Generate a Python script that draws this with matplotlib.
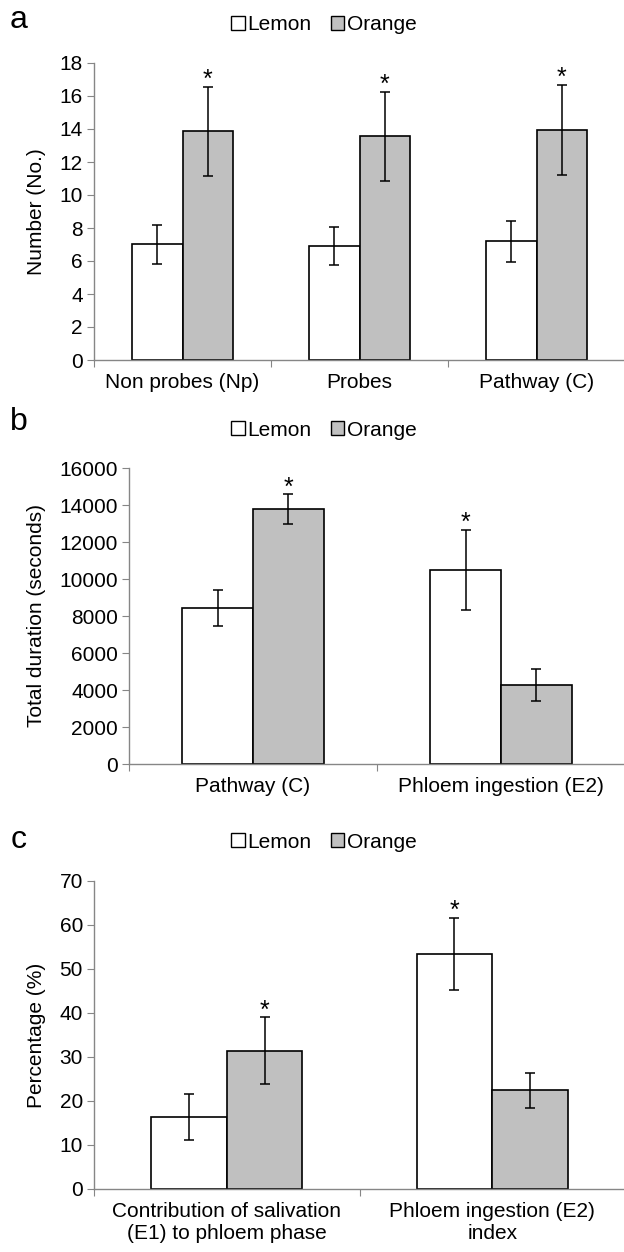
import matplotlib
matplotlib.use("Agg")
import matplotlib.pyplot as plt
import numpy as np
from matplotlib.patches import Patch

plt.rcParams["font.family"] = ["Liberation Sans", "DejaVu Sans"]
plt.rcParams["font.size"] = 15

# ---------------------------------------------------------------- data
series = ["Lemon", "Orange"]

a_categories = ["Non probes (Np)", "Probes", "Pathway (C)"]
a_lemon = [7.0, 6.9, 7.2]
a_lemon_err = [1.2, 1.15, 1.25]
a_orange = [13.85, 13.55, 13.95]
a_orange_err = [2.72, 2.68, 2.72]
a_star = ["Orange", "Orange", "Orange"]

b_categories = ["Pathway (C)", "Phloem ingestion (E2)"]
b_lemon = [8450, 10480]
b_lemon_err = [970, 2150]
b_orange = [13780, 4270]
b_orange_err = [790, 880]
b_star = ["Orange", "Lemon"]

c_categories = ["Contribution of salivation\n(E1) to phloem phase",
                "Phloem ingestion (E2)\nindex"]
c_lemon = [16.3, 53.4]
c_lemon_err = [5.2, 8.2]
c_orange = [31.4, 22.4]
c_orange_err = [7.6, 3.9]
c_star = ["Orange", "Lemon"]

W, H = 624, 1252
FILL = {"Lemon": "white", "Orange": "#c0c0c0"}
AXIS_GREY = "#868686"
BAR_W = 0.285


def px_box(left, top, bottom, right=625):
    return [left / W, 1 - bottom / H, (right - left) / W, (bottom - top) / H]


def panel(fig, box, letter, letter_y, legend_y, cats, lemon, lemon_err,
          orange, orange_err, stars, ymax, ystep, ylabel):
    ax = fig.add_axes(px_box(*box))
    x = np.arange(len(cats)) + 0.5
    vals = {"Lemon": (lemon, lemon_err, x - BAR_W / 2),
            "Orange": (orange, orange_err, x + BAR_W / 2)}
    for name in series:
        v, e, pos = vals[name]
        ax.bar(pos, v, BAR_W, color=FILL[name], edgecolor="black", lw=1.2,
               zorder=2)
        ax.errorbar(pos, v, yerr=e, fmt="none", ecolor="black", elinewidth=1.1,
                    capsize=3.6, capthick=1.1, zorder=3)
    # asterisk just above the error bar of the significant series
    for i, who in enumerate(stars):
        v, e, pos = vals[who]
        ax.annotate("*", (pos[i], v[i] + e[i]), xytext=(0, 0),
                    textcoords="offset points", ha="center", va="baseline",
                    fontsize=18)

    ax.set_xlim(0, len(cats))
    ax.set_ylim(0, ymax)
    ax.set_yticks(np.arange(0, ymax + ystep / 2, ystep))
    ax.set_xticks(np.arange(len(cats) + 1))
    ax.set_xticklabels([])
    ax.set_xticks(x, minor=True)
    ax.set_xticklabels(cats, minor=True)
    ax.tick_params(axis="x", which="minor", length=0, pad=9.5)
    ax.tick_params(axis="x", which="major", length=5, color=AXIS_GREY)
    ax.tick_params(axis="y", length=5, color=AXIS_GREY, pad=3)
    for s in ("top", "right"):
        ax.spines[s].set_visible(False)
    for s in ("left", "bottom"):
        ax.spines[s].set_color(AXIS_GREY)
        ax.spines[s].set_linewidth(1.0)

    ax.set_ylabel(ylabel)
    ymid = 1 - (box[1] + box[2]) / 2 / H
    ax.yaxis.set_label_coords(46 / W, ymid, transform=fig.transFigure)

    handles = [Patch(facecolor=FILL[n], edgecolor="black", lw=1.0) for n in series]
    fig.legend(handles, series, loc="center", ncol=2, frameon=False,
               bbox_to_anchor=(324 / W, 1 - legend_y / H),
               handlelength=0.63, handleheight=0.63, handletextpad=0.15,
               columnspacing=0.9, borderaxespad=0, borderpad=0)
    fig.text(19 / W, 1 - letter_y / H, letter, fontsize=23, ha="center",
             va="center")
    return ax


fig = plt.figure(figsize=(W / 100, H / 100), dpi=100)

panel(fig, (94, 63, 360), "a", 20, 25, a_categories, a_lemon, a_lemon_err,
      a_orange, a_orange_err, a_star, 18, 2, "Number (No.)")
panel(fig, (129, 468, 764), "b", 422, 430, b_categories, b_lemon, b_lemon_err,
      b_orange, b_orange_err, b_star, 16000, 2000, "Total duration (seconds)")
panel(fig, (94, 881, 1189), "c", 840, 842, c_categories, c_lemon, c_lemon_err,
      c_orange, c_orange_err, c_star, 70, 10, "Percentage (%)")

fig.savefig("out.png", dpi=100)
